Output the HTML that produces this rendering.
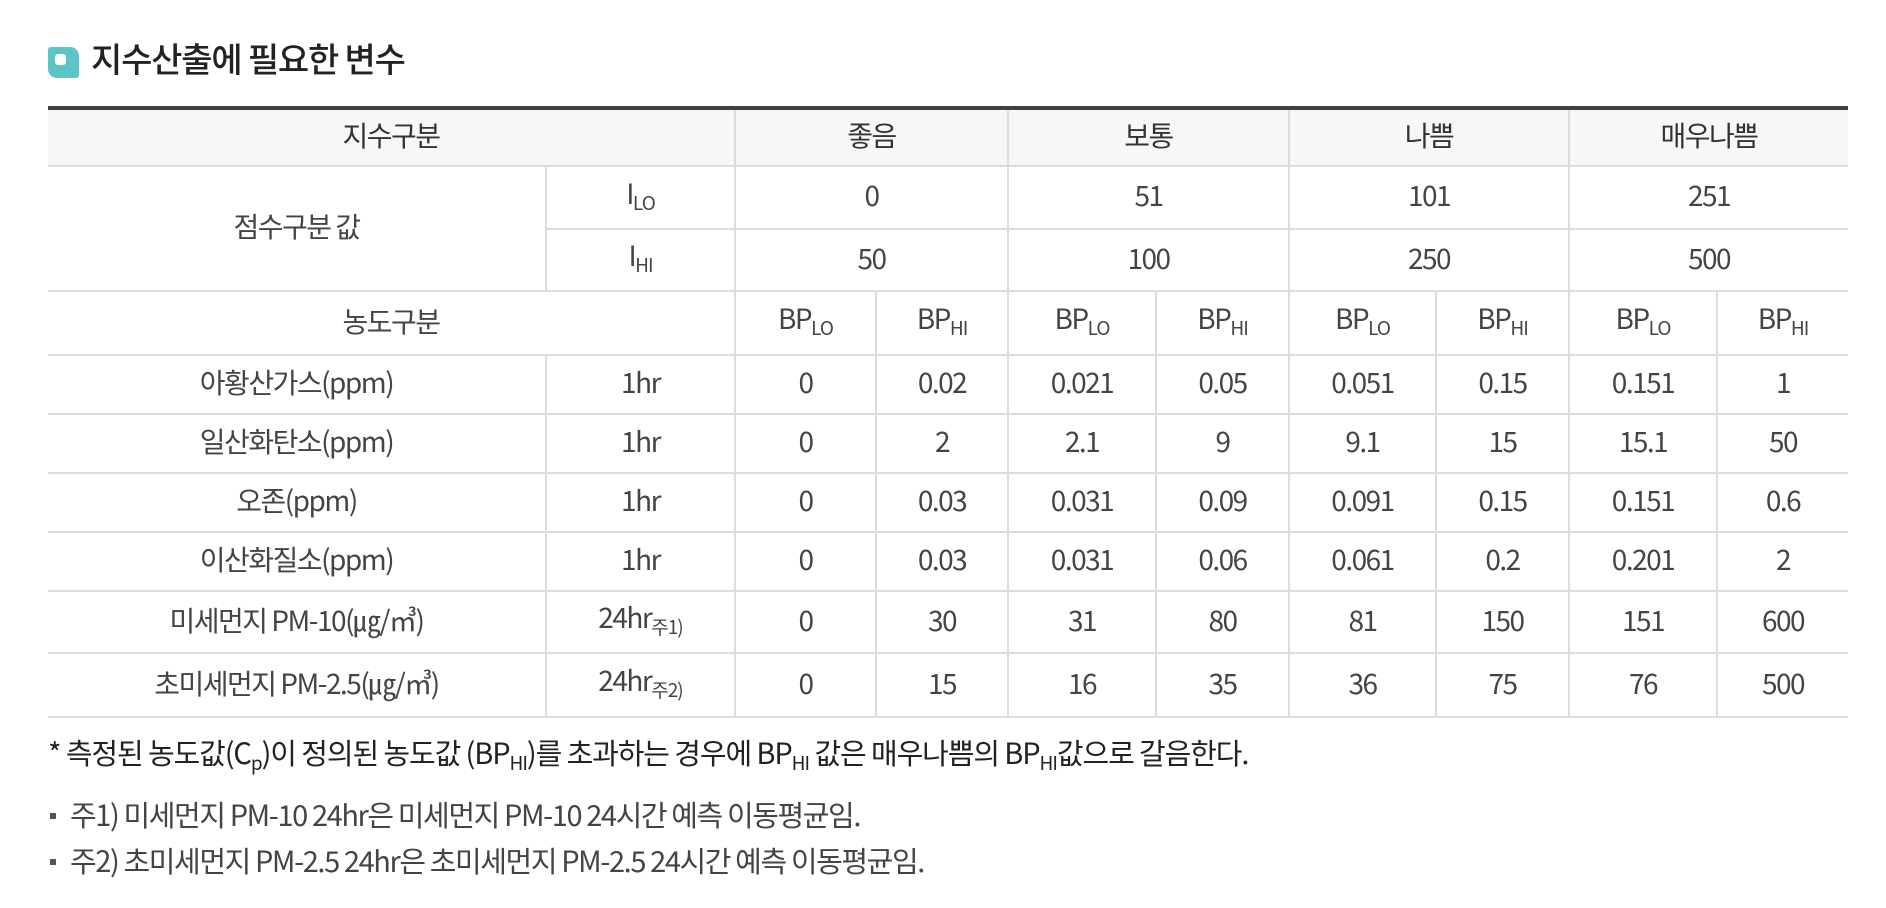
<!DOCTYPE html>
<html><head><meta charset="utf-8">
<style>
html,body{margin:0;padding:0;background:#fff;width:1886px;height:908px;overflow:hidden}
body{font-family:"Liberation Sans","Noto Sans CJK KR",sans-serif;color:#444}
#title{position:absolute;left:48px;top:32px;height:50px;display:flex;align-items:center}
#icon{width:31px;height:31px;background:#5cc5c8;border-radius:3px 9px 3px 9px;position:relative;margin-top:10px}
#icon:after{content:"";position:absolute;left:7px;top:7px;width:11px;height:11px;background:#fff;border-radius:3px}
#title h1{margin:0 0 0 12px;font-size:34px;font-weight:500;color:#222;letter-spacing:-1.2px;font-family:"Noto Sans CJK KR",sans-serif}
table{position:absolute;left:48px;top:106px;width:1800px;border-collapse:collapse;border-top:4px solid #3f3f45;table-layout:fixed}
td{border:2px solid #dcdcdc;text-align:center;font-size:28px;padding:0 0 5px 0;letter-spacing:-1.5px;font-family:"Noto Sans CJK KR","Liberation Sans",sans-serif;font-weight:400;color:#444;line-height:1}
tr td:first-child{border-left:none}
tr td:last-child{border-right:none}
.hd td{background:#f7f7f7;color:#333}
sub{font-size:19px;vertical-align:-6px;letter-spacing:-1px}
.note{position:absolute;left:48px;font-size:29px;letter-spacing:-1.1px;font-family:"Noto Sans CJK KR",sans-serif;font-weight:400;color:#222;white-space:nowrap}
.b{color:#444;padding-left:22px;font-size:29px;letter-spacing:-1.4px}
.b:before{content:"";position:absolute;left:2px;top:20px;width:6px;height:6px;background:#555}
</style></head><body>
<div id="title"><div id="icon"></div><h1>지수산출에 필요한 변수</h1></div>
<table>
<colgroup><col style="width:498px"><col style="width:189px"><col style="width:141px"><col style="width:132px"><col style="width:148px"><col style="width:133px"><col style="width:147px"><col style="width:133px"><col style="width:148px"><col style="width:131px"></colgroup>
<tr class="hd" style="height:58px"><td colspan="2">지수구분</td><td colspan="2">좋음</td><td colspan="2">보통</td><td colspan="2">나쁨</td><td colspan="2">매우나쁨</td></tr>
<tr style="height:63px"><td rowspan="2">점수구분 값</td><td>I<sub>LO</sub></td><td colspan="2">0</td><td colspan="2">51</td><td colspan="2">101</td><td colspan="2">251</td></tr>
<tr style="height:62px"><td>I<sub>HI</sub></td><td colspan="2">50</td><td colspan="2">100</td><td colspan="2">250</td><td colspan="2">500</td></tr>
<tr style="height:64px"><td colspan="2">농도구분</td><td>BP<sub>LO</sub></td><td>BP<sub>HI</sub></td><td>BP<sub>LO</sub></td><td>BP<sub>HI</sub></td><td>BP<sub>LO</sub></td><td>BP<sub>HI</sub></td><td>BP<sub>LO</sub></td><td>BP<sub>HI</sub></td></tr>
<tr style="height:59px"><td>아황산가스(ppm)</td><td>1hr</td><td>0</td><td>0.02</td><td>0.021</td><td>0.05</td><td>0.051</td><td>0.15</td><td>0.151</td><td>1</td></tr>
<tr style="height:59px"><td>일산화탄소(ppm)</td><td>1hr</td><td>0</td><td>2</td><td>2.1</td><td>9</td><td>9.1</td><td>15</td><td>15.1</td><td>50</td></tr>
<tr style="height:59px"><td>오존(ppm)</td><td>1hr</td><td>0</td><td>0.03</td><td>0.031</td><td>0.09</td><td>0.091</td><td>0.15</td><td>0.151</td><td>0.6</td></tr>
<tr style="height:59px"><td>이산화질소(ppm)</td><td>1hr</td><td>0</td><td>0.03</td><td>0.031</td><td>0.06</td><td>0.061</td><td>0.2</td><td>0.201</td><td>2</td></tr>
<tr style="height:62px"><td>미세먼지 PM-10(㎍/㎥)</td><td>24hr<sub>주1)</sub></td><td>0</td><td>30</td><td>31</td><td>80</td><td>81</td><td>150</td><td>151</td><td>600</td></tr>
<tr style="height:64px"><td>초미세먼지 PM-2.5(㎍/㎥)</td><td>24hr<sub>주2)</sub></td><td>0</td><td>15</td><td>16</td><td>35</td><td>36</td><td>75</td><td>76</td><td>500</td></tr>
</table>
<div class="note" style="top:731px">* 측정된 농도값(C<sub>p</sub>)이 정의된 농도값 (BP<sub>HI</sub>)를 초과하는 경우에 BP<sub>HI</sub> 값은 매우나쁨의 BP<sub>HI</sub>값으로 갈음한다.</div>
<div class="note b" style="top:793px">주1) 미세먼지 PM-10 24hr은 미세먼지 PM-10 24시간 예측 이동평균임.</div>
<div class="note b" style="top:839px">주2) 초미세먼지 PM-2.5 24hr은 초미세먼지 PM-2.5 24시간 예측 이동평균임.</div>
</body></html>
